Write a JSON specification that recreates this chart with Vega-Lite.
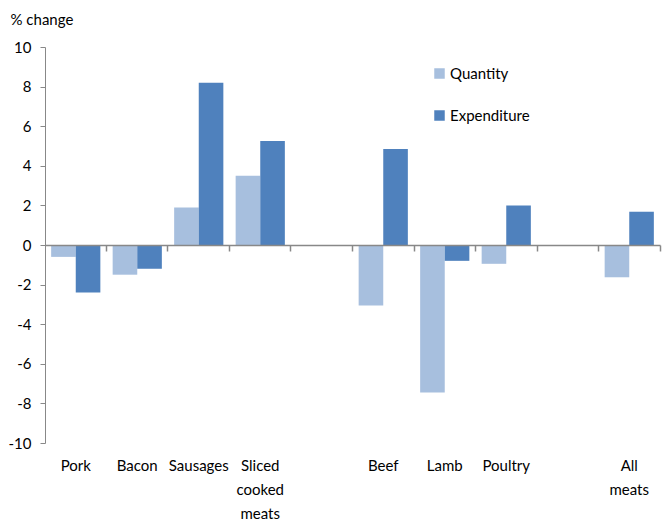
{
  "$schema": "https://vega.github.io/schema/vega-lite/v6.json",
  "autosize": {"type": "none"},
  "padding": {"left": 45, "top": 47, "right": 7, "bottom": 81},
  "width": 615,
  "height": 396,
  "background": "white",
  "config": {
    "view": {"stroke": null},
    "font": "Lato",
    "axis": {"labelFont": "Lato", "titleFont": "Lato"},
    "legend": {"labelFont": "Lato"}
  },
  "data": {
    "values": [
      {"category": "Pork", "measure": "Quantity", "value": -0.6},
      {"category": "Pork", "measure": "Expenditure", "value": -2.4},
      {"category": "Bacon", "measure": "Quantity", "value": -1.5},
      {"category": "Bacon", "measure": "Expenditure", "value": -1.2},
      {"category": "Sausages", "measure": "Quantity", "value": 1.9},
      {"category": "Sausages", "measure": "Expenditure", "value": 8.2},
      {"category": "Sliced cooked meats", "measure": "Quantity", "value": 3.5},
      {"category": "Sliced cooked meats", "measure": "Expenditure", "value": 5.25},
      {"category": "Beef", "measure": "Quantity", "value": -3.05},
      {"category": "Beef", "measure": "Expenditure", "value": 4.85},
      {"category": "Lamb", "measure": "Quantity", "value": -7.45},
      {"category": "Lamb", "measure": "Expenditure", "value": -0.8},
      {"category": "Poultry", "measure": "Quantity", "value": -0.95},
      {"category": "Poultry", "measure": "Expenditure", "value": 2.0},
      {"category": "All meats", "measure": "Quantity", "value": -1.63},
      {"category": "All meats", "measure": "Expenditure", "value": 1.68}
    ]
  },
  "encoding": {
    "y": {
      "field": "value",
      "type": "quantitative",
      "scale": {"domain": [-10, 10], "nice": false, "zero": true},
      "axis": {
        "values": [-10, -8, -6, -4, -2, 0, 2, 4, 6, 8, 10],
        "grid": false,
        "domainColor": "#888888",
        "tickColor": "#888888",
        "tickSize": 5,
        "labelPadding": 9,
        "labelFontSize": 15,
        "labelColor": "#000000",
        "labelExpr": "'' + datum.value",
        "title": "% change",
        "titleAngle": 0,
        "titleAlign": "left",
        "titleBaseline": "alphabetic",
        "titleX": -35,
        "titleY": -23,
        "titleFontSize": 15,
        "titleFontWeight": "normal",
        "titleColor": "#000000"
      }
    }
  },
  "layer": [
    {
      "mark": {"type": "bar"},
      "encoding": {
        "x": {
          "field": "category",
          "type": "nominal",
          "sort": null,
          "scale": {
            "domain": ["Pork", "Bacon", "Sausages", "Sliced cooked meats", "_gap1", "Beef", "Lamb", "Poultry", "_gap2", "All meats"],
            "paddingInner": 0.2,
            "paddingOuter": 0.1
          },
          "axis": {
            "orient": "bottom",
            "title": null,
            "domain": false,
            "ticks": false,
            "labelAngle": 0,
            "labelFontSize": 15,
            "labelColor": "#000000",
            "labelPadding": 15,
            "labelLineHeight": 24,
            "labelBaseline": "top",
            "labelExpr": "datum.label == 'Sliced cooked meats' ? ['Sliced', 'cooked', 'meats'] : datum.label == 'All meats' ? ['All', 'meats'] : (datum.label == '_gap1' || datum.label == '_gap2') ? '' : datum.label"
          }
        },
        "xOffset": {
          "field": "measure",
          "type": "nominal",
          "sort": ["Quantity", "Expenditure"],
          "scale": {"paddingInner": 0, "paddingOuter": 0}
        },
        "color": {
          "field": "measure",
          "type": "nominal",
          "sort": ["Quantity", "Expenditure"],
          "scale": {"domain": ["Quantity", "Expenditure"], "range": ["#A7BFDE", "#4F81BD"]},
          "legend": {
            "title": null,
            "orient": "none",
            "legendX": 387,
            "legendY": 19,
            "symbolType": "square",
            "symbolSize": 110,
            "symbolStrokeWidth": 0,
            "labelFontSize": 15,
            "labelColor": "#000000",
            "rowPadding": 26,
            "labelOffset": 3
          }
        }
      }
    },
    {
      "mark": {"type": "point", "opacity": 0},
      "encoding": {
        "x": {
          "field": "category",
          "type": "nominal",
          "sort": null,
          "axis": {
            "orient": "bottom",
            "offset": -198,
            "title": null,
            "labels": false,
            "domain": true,
            "ticks": true,
            "bandPosition": 1.125,
            "tickSize": 6,
            "tickWidth": 1.5,
            "tickOpacity": 1,
            "domainColor": "#888888",
            "tickColor": "#888888",
            "domainWidth": 1.5,
            "zindex": 1
          }
        }
      }
    }
  ],
  "resolve": {"axis": {"x": "independent"}}
}
